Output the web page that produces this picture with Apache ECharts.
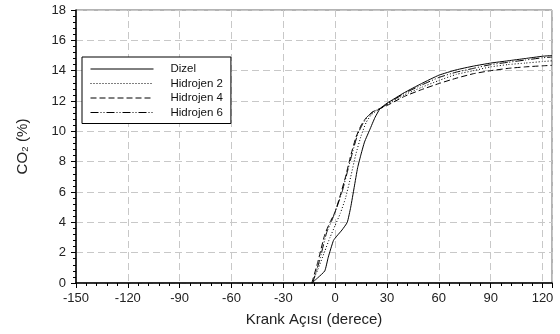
<!DOCTYPE html>
<html>
<head>
<meta charset="utf-8">
<script src="https://cdn.jsdelivr.net/npm/echarts@6/dist/echarts.min.js"></script>
<style>html,body{margin:0;padding:0;background:#fff;}#c{width:560px;height:334px;}</style>
</head>
<body>
<div id="c"></div>
<script>
const seriesNames = ['Dizel', 'Hidrojen 2', 'Hidrojen 4', 'Hidrojen 6'];

const dizelX = [-13.5, -10, -6, -4, -1, 1, 4, 7, 9, 11, 13, 15, 17, 20, 23, 26, 30, 40, 50, 60, 70, 80, 90, 100, 110, 120, 125.5];
const dizelY = [0, 0.35, 0.8, 1.7, 2.8, 3.1, 3.5, 4.0, 5.0, 6.3, 7.6, 8.5, 9.3, 10.1, 10.9, 11.5, 11.85, 12.55, 13.15, 13.7, 14.05, 14.3, 14.5, 14.65, 14.8, 14.95, 15.0];

const h2X = [-13.5, -10, -6, -3, 0, 3, 6, 9, 12, 15, 18, 21, 26, 30, 40, 50, 60, 70, 80, 90, 100, 110, 120, 125.5];
const h2Y = [0, 0.9, 2.1, 3.0, 3.8, 4.6, 5.6, 7.0, 8.5, 9.7, 10.6, 11.1, 11.5, 11.75, 12.4, 12.9, 13.35, 13.75, 14.0, 14.25, 14.4, 14.5, 14.6, 14.65];

const h4X = [-13.5, -10, -6, -3, 0, 3, 6, 9, 12, 15, 18, 22, 26, 30, 40, 50, 60, 70, 80, 90, 100, 110, 120, 125.5];
const h4Y = [0, 1.4, 3.2, 4.0, 4.7, 5.8, 7.0, 8.4, 9.6, 10.4, 10.9, 11.3, 11.5, 11.7, 12.3, 12.75, 13.15, 13.5, 13.8, 14.0, 14.15, 14.25, 14.32, 14.35];

const h6X = [-13, -9, -5, -2, 1, 4, 7, 10, 13, 16, 19, 22, 26, 30, 40, 50, 60, 70, 80, 90, 100, 110, 120, 125.5];
const h6Y = [0, 1.5, 3.3, 4.1, 5.0, 6.0, 7.3, 8.6, 9.8, 10.5, 11.0, 11.3, 11.5, 11.8, 12.5, 13.05, 13.55, 13.9, 14.15, 14.4, 14.55, 14.7, 14.85, 14.9];

const xTitle = 'Krank Açısı (derece)';
const yTitle = 'CO₂ (%)';

function pairs(xs, ys) { return xs.map((x, i) => [x, ys[i]]); }

const dashes = ['solid', [1, 2], [6, 3], [8, 2, 1, 2, 1, 2]];
const allData = [pairs(dizelX, dizelY), pairs(h2X, h2Y), pairs(h4X, h4Y), pairs(h6X, h6Y)];

const font = 'Liberation Sans, Arial, sans-serif';
const chart = echarts.init(document.getElementById('c'), null, {renderer: 'canvas'});
chart.setOption({
  animation: false,
  backgroundColor: '#fff',
  grid: {left: 76, right: 8, top: 10, bottom: 51, show: true, borderColor: '#666', borderWidth: 1},
  legend: {
    orient: 'vertical', left: 82, top: 57,
    padding: [6, 8, 5, 8],
    borderColor: '#000', borderWidth: 1, backgroundColor: '#fff',
    itemWidth: 63, itemHeight: 8, itemGap: 2.5,
    itemStyle: {opacity: 0},
    lineStyle: {width: 1},
    textStyle: {fontFamily: font, fontSize: 11.5, color: '#111', padding: [0, 0, 0, 12]},
    data: seriesNames
  },
  xAxis: {
    type: 'value', min: -150, max: 125.5, interval: 30,
    name: xTitle, nameLocation: 'middle', nameGap: 29,
    nameTextStyle: {fontFamily: font, fontSize: 15, color: '#222'},
    axisLine: {show: true, onZero: false, lineStyle: {color: '#000', width: 1.5}},
    axisTick: {show: true, length: 5, inside: false, lineStyle: {color: '#000'}},
    minorTick: {show: true, splitNumber: 5, length: 3, lineStyle: {color: '#000'}},
    axisLabel: {fontFamily: font, fontSize: 13, color: '#222', margin: 9, showMaxLabel: false},
    splitLine: {show: true, lineStyle: {color: '#c8c8c8', type: [7, 4]}}
  },
  yAxis: {
    type: 'value', min: 0, max: 18, interval: 2,
    name: yTitle, nameLocation: 'middle', nameGap: 46,
    nameTextStyle: {fontFamily: font, fontSize: 15, color: '#222'},
    axisLine: {show: true, onZero: false, lineStyle: {color: '#000', width: 1.5}},
    axisTick: {show: true, length: 5, lineStyle: {color: '#000'}},
    minorTick: {show: true, splitNumber: 5, length: 3, lineStyle: {color: '#000'}},
    axisLabel: {fontFamily: font, fontSize: 13, color: '#222', margin: 10},
    splitLine: {show: true, lineStyle: {color: '#c8c8c8', type: [7, 4]}}
  },
  series: seriesNames.map((n, i) => ({
    name: n, type: 'line', data: allData[i], symbol: 'none', smooth: 0.15,
    lineStyle: {color: '#000', width: 1, type: dashes[i]},
    itemStyle: {color: '#000'}
  }))
});
</script>
</body>
</html>
